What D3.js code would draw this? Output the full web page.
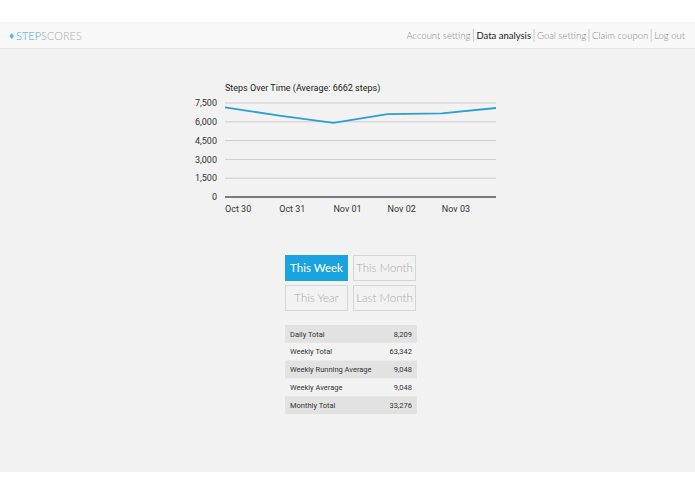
<!DOCTYPE html>
<html><head><meta charset="utf-8">
<script src="https://cdn.jsdelivr.net/npm/d3@7"></script>
<style>
body{margin:0;width:695px;height:494px;background:#fff;font-family:Lato,sans-serif;position:relative;overflow:hidden}
#hdr{position:absolute;top:22px;left:0;width:695px;height:26px;background:#f8f8f8;border-bottom:1px solid #e6e6e6}
#main{position:absolute;top:49px;left:0;width:695px;height:423px;background:#f2f2f2}
.btn{position:absolute;width:63px;height:26px;box-sizing:border-box;border:1px solid #d6d6d6;color:#aaa;font-size:11.5px;line-height:24px;text-align:center;background:#f2f2f2;white-space:nowrap;font-weight:300}
.btn.on{background:#1ba3e0;border-color:#1ba3e0;color:#fff;font-weight:400}
</style></head><body>
<div id="hdr"></div><div id="main"></div>
<svg id="c" width="695" height="494" style="position:absolute;top:0;left:0"></svg>
<script>
var dates = ["2017-10-30","2017-10-31","2017-11-01","2017-11-02","2017-11-03","2017-11-04"];
var steps = [7150, 6500, 5920, 6620, 6680, 7100];
var yTicks = [0, 1500, 3000, 4500, 6000, 7500];
var navItems = ["Account setting", "Data analysis", "Goal setting", "Claim coupon", "Log out"];
var buttons = ["This Week", "This Month", "This Year", "Last Month"];
var statNames = ["Daily Total", "Weekly Total", "Weekly Running Average", "Weekly Average", "Monthly Total"];
var statValues = ["8,209", "63,342", "9,048", "9,048", "33,276"];

var svg = d3.select("#c");
var parse = d3.timeParse("%Y-%m-%d");
var data = dates.map(function (d, i) { return { date: parse(d), v: steps[i] }; });

// header
svg.append("text").attr("x", 9).attr("y", 39).attr("font-size", 10).attr("fill", "#4fb8e6").text("♦");
svg.append("text").attr("x", 16).attr("y", 40).attr("font-size", 11).attr("font-weight", 300)
  .call(function (t) {
    t.append("tspan").attr("fill", "#39aee0").text("STEP");
    t.append("tspan").attr("fill", "#aaa").text("SCORES");
  });
var nx = 685;
var navG = svg.append("g");
navItems.slice().reverse().forEach(function (n, i) {
  var t = navG.append("text").attr("x", nx).attr("y", 39).attr("text-anchor", "end")
    .attr("font-size", 9.5).attr("font-weight", n === "Data analysis" ? 400 : 300)
    .attr("fill", n === "Data analysis" ? "#222" : "#888").text(n);
  var w = t.node().getComputedTextLength();
  nx -= w + 3;
  if (i < navItems.length - 1) {
    svg.append("line").attr("x1", nx).attr("x2", nx).attr("y1", 29).attr("y2", 42).attr("stroke", "#ccc");
    nx -= 3;
  }
});

// chart
var x = d3.scaleTime().domain(d3.extent(data, function (d) { return d.date; })).range([225, 496]);
var y = d3.scaleLinear().domain([0, 7500]).range([197, 103]);

svg.append("text").attr("x", 225).attr("y", 91).attr("font-family", "Roboto").attr("font-size", 9).attr("fill", "#222")
  .text("Steps Over Time (Average: " + Math.round(d3.mean(steps)) + " steps)");

var grid = svg.append("g");
yTicks.forEach(function (t) {
  grid.append("line").attr("x1", 225).attr("x2", 496).attr("y1", y(t)).attr("y2", y(t))
    .attr("stroke", t === 0 ? "#555" : "#ccc").attr("stroke-width", t === 0 ? 1.5 : 1);
  grid.append("text").attr("x", 217).attr("y", y(t)).attr("dy", "0.35em").attr("text-anchor", "end")
    .attr("font-family", "Roboto").attr("font-size", 9).attr("fill", "#333").text(d3.format(",")(t));
});
data.slice(0, 5).forEach(function (d) {
  svg.append("text").attr("x", x(d.date)).attr("y", 212).attr("font-family", "Roboto").attr("font-size", 9)
    .attr("fill", "#333").text(d3.timeFormat("%b %d")(d.date));
});
svg.append("path").datum(data).attr("fill", "none").attr("stroke", "#2a9fd6").attr("stroke-width", 1.8)
  .attr("d", d3.line().x(function (d) { return x(d.date); }).y(function (d) { return y(d.v); }));

// buttons
buttons.forEach(function (b, i) {
  d3.select("body").append("div").attr("class", "btn" + (i === 0 ? " on" : ""))
    .style("left", (285 + (i % 2) * 68) + "px").style("top", (255 + Math.floor(i / 2) * 30) + "px").text(b);
});

// table
var rowH = 17.8;
statNames.forEach(function (n, i) {
  var ty = 325 + i * rowH;
  if (i % 2 === 0) svg.append("rect").attr("x", 285).attr("y", ty).attr("width", 132).attr("height", rowH).attr("fill", "#e2e2e2");
  svg.append("text").attr("x", 290).attr("y", ty + rowH / 2).attr("dy", "0.35em").attr("font-family", "Roboto")
    .attr("font-size", 7.5).attr("fill", "#333").text(n);
  svg.append("text").attr("x", 412).attr("y", ty + rowH / 2).attr("dy", "0.35em").attr("text-anchor", "end")
    .attr("font-family", "Roboto").attr("font-size", 7.5).attr("fill", "#333").text(statValues[i]);
});
</script></body></html>
